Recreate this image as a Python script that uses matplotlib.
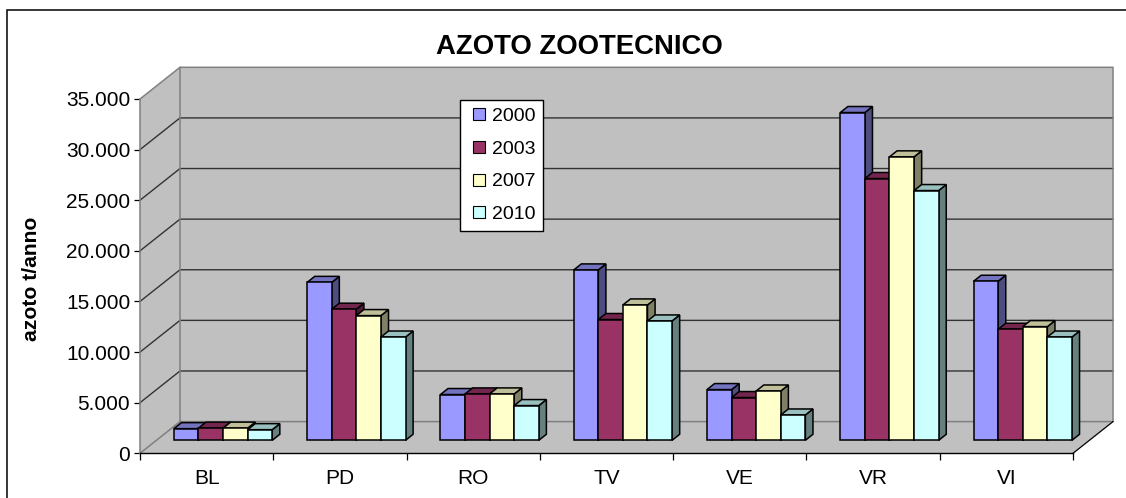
import matplotlib
matplotlib.use('Agg')
import matplotlib.pyplot as plt
from matplotlib.lines import Line2D
from matplotlib.patches import Polygon, Rectangle
from matplotlib.ticker import FuncFormatter

plt.rcParams['font.family'] = ['Liberation Sans', 'DejaVu Sans']

provinces = ['BL', 'PD', 'RO', 'TV', 'VE', 'VR', 'VI']
years = ['2000', '2003', '2007', '2010']
colors = ['#9999FF', '#993366', '#FFFFCC', '#CCFFFF']

# values, t/anno
azoto_2000 = [1150, 15600, 4520, 16830, 5010, 32380, 15710]
azoto_2003 = [1200, 12950, 4580, 11930, 4220, 25860, 10970]
azoto_2007 = [1200, 12320, 4580, 13370, 4870, 28000, 11230]
azoto_2010 = [1050, 10200, 3430, 11790, 2500, 24670, 10200]
series = [azoto_2000, azoto_2003, azoto_2007, azoto_2010]

y_ticks = [0, 5000, 10000, 15000, 20000, 25000, 30000, 35000]

W, H = 1126, 498
fig = plt.figure(figsize=(W / 100, H / 100), dpi=100, facecolor='white')
ax = fig.add_axes([140 / W, 1 - 453.3 / H, 933 / W, 354.3 / H])
ax.set_xlim(0, len(provinces))
ax.set_ylim(0, 35000)
ax.patch.set_visible(False)

# fake 3D: depth 0 is the front plane, depth 1 the back wall
depth_x = 40 / 133.3
depth_y = 31.7 / 354.3 * 35000


def oblique(x, y, depth):
    return (x + depth * depth_x, y + depth * depth_y)


def face(points, **kw):
    xy = [oblique(*p) for p in points]
    ax.add_patch(Polygon(xy, closed=True, clip_on=False, **kw))


def shade(color, k):
    rgb = matplotlib.colors.to_rgb(color)
    return tuple(c * k for c in rgb)


n = len(provinces)
top = y_ticks[-1]
wall = '#C0C0C0'
wall_edge = '#808080'

# walls and floor
face([(0, 0, 0), (n, 0, 0), (n, 0, 1), (0, 0, 1)], facecolor=wall, edgecolor='none', zorder=1)
face([(0, 0, 0), (0, 0, 1), (0, top, 1), (0, top, 0)], facecolor=wall, edgecolor='none', zorder=1)
face([(0, 0, 1), (n, 0, 1), (n, top, 1), (0, top, 1)], facecolor=wall, edgecolor='none', zorder=1)

for y in y_ticks[1:-1]:
    xs, ys = zip(oblique(0, y, 0), oblique(0, y, 1), oblique(n, y, 1))
    ax.plot(xs, ys, color='#333333', lw=1.0, clip_on=False, zorder=2)

xs, ys = zip(oblique(0, 0, 0), oblique(0, 0, 1), oblique(n, 0, 1), oblique(n, top, 1),
             oblique(0, top, 1), oblique(0, 0, 1))
ax.plot(xs, ys, color=wall_edge, lw=1.1, clip_on=False, zorder=2)
xs, ys = zip(oblique(0, top, 0), oblique(0, top, 1))
ax.plot(xs, ys, color=wall_edge, lw=1.1, clip_on=False, zorder=2)
xs, ys = zip(oblique(n, 0, 0), oblique(n, 0, 1))
ax.plot(xs, ys, color='black', lw=0.9, clip_on=False, zorder=2)

# bars
bar_w = 0.1845
gap = (1 - bar_w * len(series)) / 2
d0 = 0.41
d1 = 0.60
z = 3
for i in range(n):
    for j, vals in enumerate(series):
        x0 = i + gap + j * bar_w
        x1 = x0 + bar_w
        v = vals[i]
        c = colors[j]
        edge = dict(edgecolor='black', lw=1.1, joinstyle='miter', zorder=z)
        face([(x1, 0, d0), (x1, 0, d1), (x1, v, d1), (x1, v, d0)], facecolor=shade(c, 0.5), **edge)
        face([(x0, v, d0), (x1, v, d0), (x1, v, d1), (x0, v, d1)], facecolor=shade(c, 0.75), **edge)
        face([(x0, 0, d0), (x1, 0, d0), (x1, v, d0), (x0, v, d0)], facecolor=c, **edge)

# axes
ax.spines['top'].set_visible(False)
ax.spines['right'].set_visible(False)
ax.spines['left'].set_color(wall_edge)
ax.spines['left'].set_linewidth(1.1)
ax.spines['bottom'].set_linewidth(1.0)
ax.spines['left'].set_zorder(2.5)
ax.spines['bottom'].set_zorder(2.5)

ax.set_yticks(y_ticks)
ax.yaxis.set_major_formatter(FuncFormatter(lambda v, p: f'{int(v):,}'.replace(',', '.')))
ax.tick_params(axis='y', length=4, width=0.9, pad=3, labelsize=15)
ax.set_xticks(range(n + 1))
ax.set_xticklabels([])
ax.set_xticks([i + 0.5 for i in range(n)], minor=True)
ax.set_xticklabels(provinces, minor=True, fontsize=15)
ax.tick_params(axis='x', which='major', length=5, width=0.9)
ax.tick_params(axis='x', which='minor', length=0, pad=11)

ax.set_ylabel('azoto t/anno', fontsize=15.2, fontweight='bold')
ax.yaxis.set_label_coords((41 - 140) / 933, (453.3 - 279) / 354.3)

fig.text(579.5 / W, 1 - 47 / H, 'AZOTO ZOOTECNICO', fontsize=19.8, fontweight='bold',
         ha='center', va='center')

# chart frame runs off the right and bottom of the picture
fig.add_artist(Rectangle((7.5 / W, -0.1), 1.2, 1 - 10 / H + 0.1, transform=fig.transFigure,
                         facecolor='none', edgecolor='black', lw=1.1))

handles = [Line2D([], [], marker='s', linestyle='none', markersize=8.4, markerfacecolor=c,
                  markeredgecolor='black', markeredgewidth=0.8) for c in colors]
leg = ax.legend(handles, years, loc='upper left', fontsize=14, numpoints=1,
                bbox_to_anchor=(459.7 / W, 1 - 100 / H), bbox_transform=fig.transFigure,
                fancybox=False, framealpha=1, edgecolor='black', borderaxespad=0,
                handlelength=1.2, handletextpad=0.08, labelspacing=0.77, borderpad=0.39)
leg.get_frame().set_linewidth(1.0)
leg.set_zorder(20)

fig.savefig('out.png', dpi=100)
